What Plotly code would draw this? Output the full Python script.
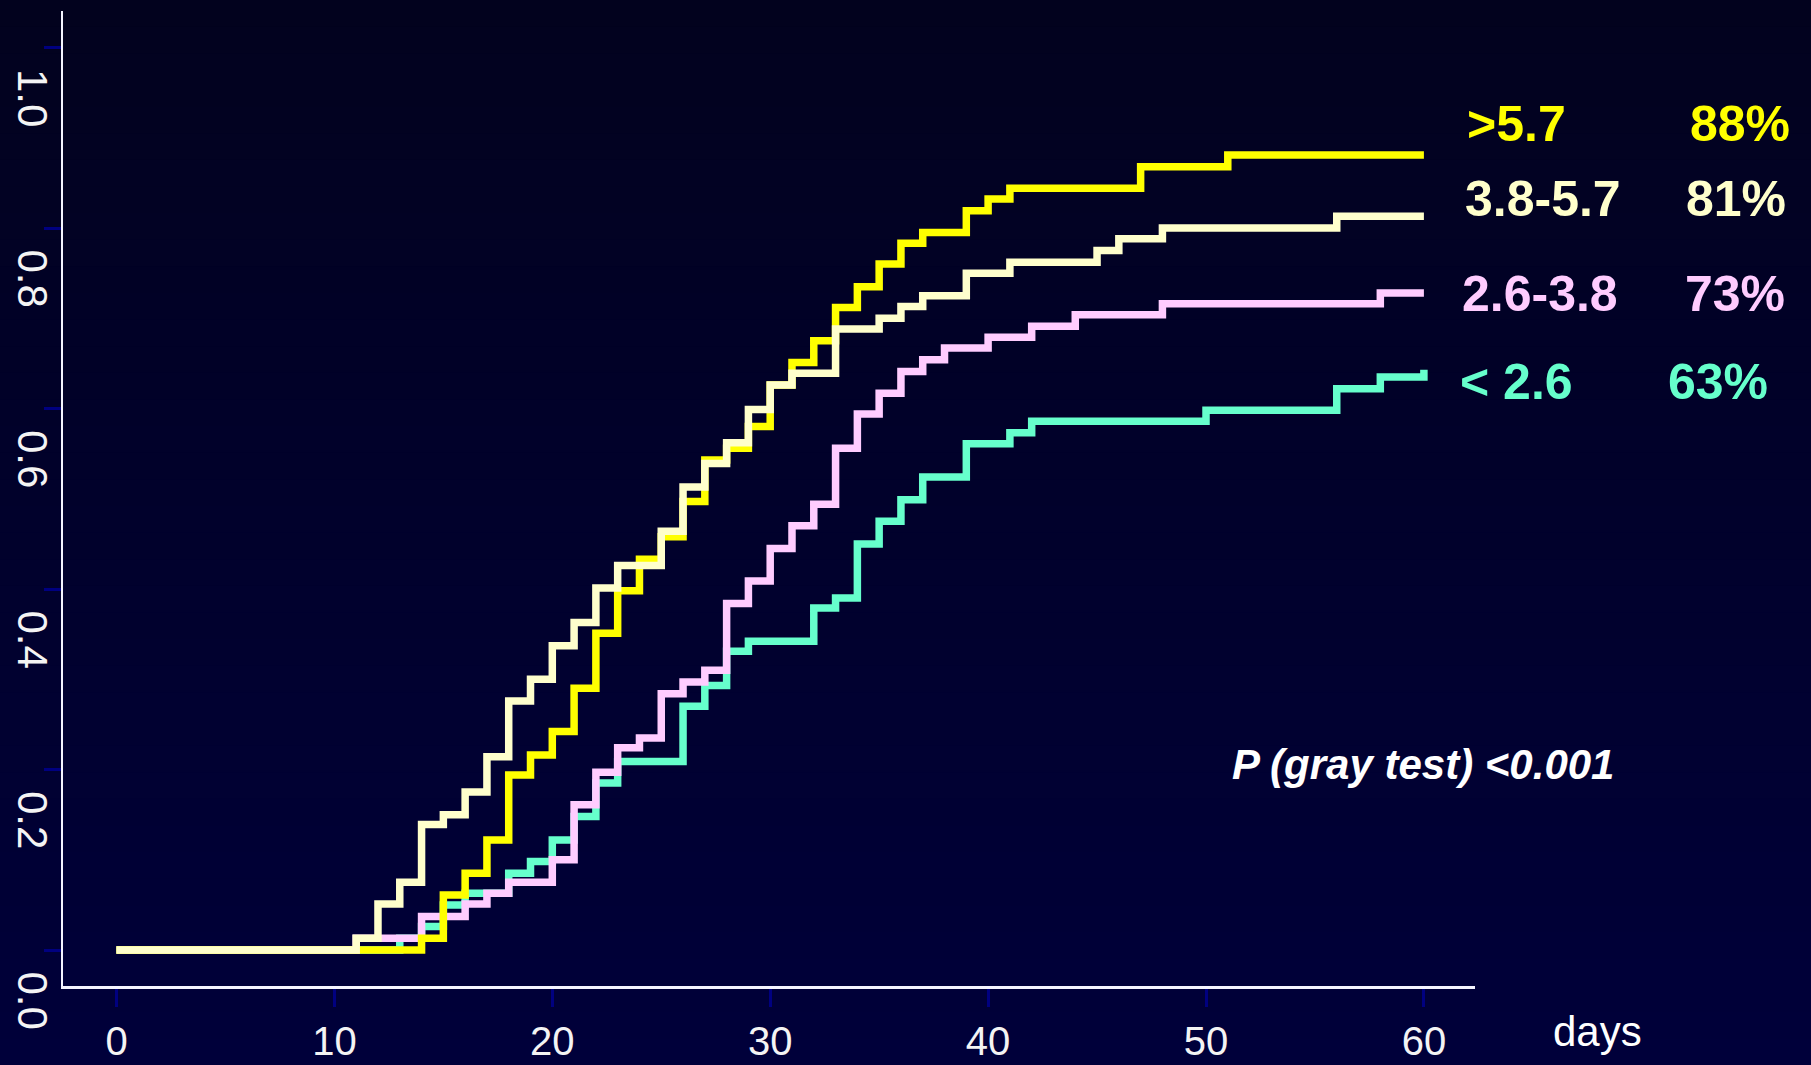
import plotly.graph_objects as go

# ---------------- data ----------------
yellow_days = [0, 14, 15, 16, 17, 18, 19, 20, 21, 22, 23, 24, 25, 26, 27, 28, 29, 30, 31, 32, 33, 34, 35, 36, 37, 39, 40, 41, 47, 51, 60]
yellow_vals = [0, 0.013, 0.061, 0.085, 0.122, 0.194, 0.216, 0.242, 0.290, 0.351, 0.398, 0.433, 0.458, 0.497, 0.543, 0.556, 0.580, 0.626, 0.651, 0.675, 0.712, 0.735, 0.760, 0.783, 0.795, 0.819, 0.832, 0.844, 0.868, 0.881, 0.881]

cream_days = [0, 11, 12, 13, 14, 15, 16, 17, 18, 19, 20, 21, 22, 23, 25, 26, 27, 28, 29, 30, 31, 33, 35, 36, 37, 39, 41, 45, 46, 48, 56, 60]
cream_vals = [0, 0.013, 0.051, 0.075, 0.139, 0.150, 0.175, 0.214, 0.276, 0.300, 0.337, 0.363, 0.401, 0.426, 0.464, 0.513, 0.539, 0.562, 0.599, 0.626, 0.639, 0.688, 0.700, 0.713, 0.725, 0.750, 0.762, 0.775, 0.788, 0.800, 0.813, 0.813]

pink_days = [0, 11, 14, 16, 17, 18, 20, 21, 22, 23, 24, 25, 26, 27, 28, 29, 30, 31, 32, 33, 34, 35, 36, 37, 38, 40, 42, 44, 48, 58, 60]
pink_vals = [0, 0.013, 0.037, 0.051, 0.063, 0.075, 0.100, 0.161, 0.197, 0.224, 0.235, 0.284, 0.297, 0.310, 0.384, 0.409, 0.445, 0.470, 0.494, 0.556, 0.594, 0.617, 0.641, 0.654, 0.667, 0.679, 0.691, 0.704, 0.716, 0.728, 0.728]

teal_days = [0, 13, 14, 15, 16, 18, 19, 20, 21, 22, 23, 26, 27, 28, 29, 32, 33, 34, 35, 36, 37, 39, 41, 42, 50, 56, 58, 60]
teal_vals = [0, 0.013, 0.026, 0.050, 0.063, 0.085, 0.098, 0.122, 0.148, 0.185, 0.209, 0.270, 0.293, 0.331, 0.342, 0.379, 0.390, 0.450, 0.475, 0.499, 0.524, 0.561, 0.573, 0.586, 0.598, 0.622, 0.635, 0.643]

group_labels = ["&gt;5.7", "3.8-5.7", "2.6-3.8", "&lt; 2.6"]
group_pcts = ["88%", "81%", "73%", "63%"]
group_colors = ["#FFFF00", "#FFFFCC", "#FFCCFF", "#66FFCC"]

x_tickvals = [0, 10, 20, 30, 40, 50, 60]
x_ticktext = ["0", "10", "20", "30", "40", "50", "60"]
y_tickvals = [0.0, 0.2, 0.4, 0.6, 0.8, 1.0]
y_ticktext = ["0.0", "0.2", "0.4", "0.6", "0.8", "1.0"]

x_axis_title = "days"
p_text = "P (gray test) &lt;0.001"

# ---------------- layout geometry (pixels) ----------------
W, H = 1811, 1065
L, R, T, B = 63, 1475, 11, 986
PW, PH = R - L, B - T

def px(X):
    return (X - L) / PW

def py(Y):
    return (B - Y) / PH

FONT = "Liberation Sans, Arial, sans-serif"

fig = go.Figure()

series = [
    (teal_days, teal_vals, group_colors[3], group_labels[3]),
    (pink_days, pink_vals, group_colors[2], group_labels[2]),
    (yellow_days, yellow_vals, group_colors[0], group_labels[0]),
    (cream_days, cream_vals, group_colors[1], group_labels[1]),
]
for d, v, c, n in series:
    fig.add_trace(go.Scatter(x=d, y=v, mode="lines", line=dict(color=c, width=7.5, shape="hv"),
                             name=n, showlegend=False, hoverinfo="skip"))

# background gradient bands
shapes = []
N = 40
top_c = (2, 2, 30)
bot_c = (0, 0, 58)
for i in range(N):
    y0 = H * i / N
    y1 = H * (i + 1) / N + 1
    t = (i + 0.5) / N
    col = tuple(int(round(top_c[k] + (bot_c[k] - top_c[k]) * t)) for k in range(3))
    shapes.append(dict(type="rect", xref="paper", yref="paper", layer="below",
                       x0=px(0), x1=px(W), y0=py(y1), y1=py(y0),
                       fillcolor="rgb(%d,%d,%d)" % col, line=dict(width=0)))

annotations = []
label_left = [1465, 1463, 1460, 1458]
pct_right = [1792, 1788, 1787, 1770]
cap_center = [124, 199, 294, 382]
for i in range(4):
    annotations.append(dict(xref="paper", yref="paper", x=px(label_left[i]), y=py(cap_center[i]),
                            xanchor="left", yanchor="middle", showarrow=False,
                            text="<b>%s</b>" % group_labels[i],
                            font=dict(family=FONT, size=50, color=group_colors[i])))
    annotations.append(dict(xref="paper", yref="paper", x=px(pct_right[i]), y=py(cap_center[i]),
                            xanchor="right", yanchor="middle", showarrow=False,
                            text="<b>%s</b>" % group_pcts[i],
                            font=dict(family=FONT, size=50, color=group_colors[i])))

annotations.append(dict(xref="paper", yref="paper", x=px(1230), y=py(764),
                        xanchor="left", yanchor="middle", showarrow=False,
                        text="<b><i>%s</i></b>" % p_text,
                        font=dict(family=FONT, size=42, color="#FFFFFF")))
annotations.append(dict(xref="paper", yref="paper", x=px(1551), y=py(1031),
                        xanchor="left", yanchor="middle", showarrow=False,
                        text=x_axis_title,
                        font=dict(family=FONT, size=42, color="#FFFFFF")))

x0_px, x_per = 116.5, 21.79
y0_px, y_per = 950.0, 902.5
xr = [(L - x0_px) / x_per, (R - x0_px) / x_per]
yr = [(y0_px - B) / y_per, (y0_px - T) / y_per]

fig.update_layout(
    width=W, height=H,
    margin=dict(l=L, r=W - R, t=T, b=H - B, pad=0, autoexpand=False),
    paper_bgcolor="rgb(0,0,52)",
    plot_bgcolor="rgba(0,0,0,0)",
    shapes=shapes,
    annotations=annotations,
    showlegend=False,
    xaxis=dict(range=xr, tickvals=x_tickvals, ticktext=x_ticktext, showgrid=False, zeroline=False,
               automargin=False,
               showline=True, linecolor="#F4F4FF", linewidth=3,
               ticks="outside", ticklen=18, tickwidth=3, tickcolor="#000080",
               ticklabelstandoff=0,
               tickfont=dict(family=FONT, size=40, color="#F4F4F4")),
    yaxis=dict(range=yr, tickvals=y_tickvals, ticktext=y_ticktext, showgrid=False, zeroline=False,
               automargin=False,
               showline=True, linecolor="#F4F4FF", linewidth=2,
               ticks="outside", ticklen=17, tickwidth=3, tickcolor="#000080",
               tickangle=90, ticklabelshift=57, ticklabelstandoff=-24,
               tickfont=dict(family=FONT, size=42, color="#F4F4F4")),
)

fig.write_html("out.html", config={"displayModeBar": False},
               post_script="document.body.style.margin='0px';document.body.style.overflow='hidden';")
